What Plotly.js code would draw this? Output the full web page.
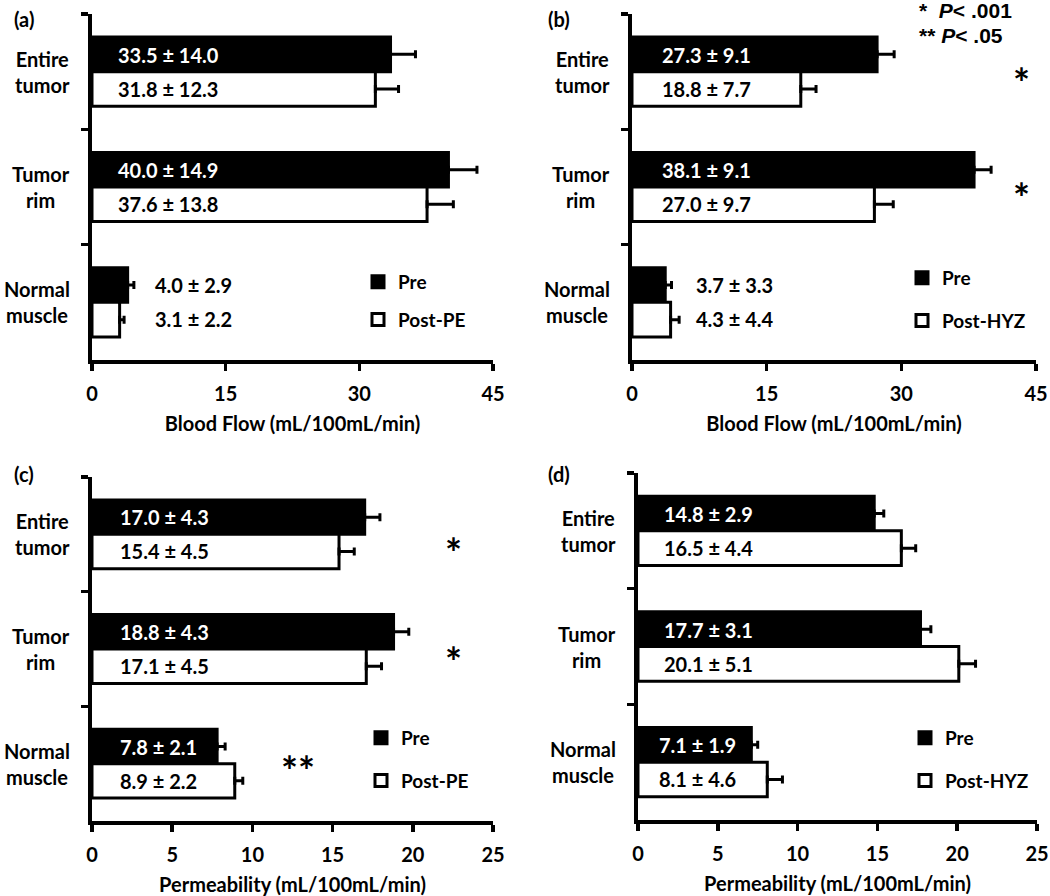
<!DOCTYPE html>
<html><head><meta charset="utf-8">
<script src="https://cdn.plot.ly/plotly-3.0.1.min.js"></script>
<style>html,body{margin:0;padding:0;background:#fff}#chart{width:1050px;height:896px}</style>
</head><body><div id="chart"></div>
<script>
// ---------- data ----------
const categories = ['Entire tumor', 'Tumor rim', 'Normal muscle'];
const categoryLabels = ['Entire<br>tumor', 'Tumor<br>rim', 'Normal<br>muscle'];
const panelLetters = ['(a)', '(b)', '(c)', '(d)'];
const preName = 'Pre';
const postNames = ['Post-PE', 'Post-HYZ', 'Post-PE', 'Post-HYZ'];
const xTitles = ['Blood Flow (mL/100mL/min)', 'Blood Flow (mL/100mL/min)',
                 'Permeability (mL/100mL/min)', 'Permeability (mL/100mL/min)'];
const xTicksFlow = [0, 15, 30, 45];
const xTicksPerm = [0, 5, 10, 15, 20, 25];

// (a) blood flow, PE
const flowPE_pre = [33.5, 40.0, 4.0];
const flowPE_preSD = [14.0, 14.9, 2.9];
const flowPE_preErr = [2.8, 3.2, 0.7];
const flowPE_post = [31.8, 37.6, 3.1];
const flowPE_postSD = [12.3, 13.8, 2.2];
const flowPE_postErr = [2.6, 2.95, 0.5];
// (b) blood flow, HYZ
const flowHYZ_pre = [27.3, 38.1, 3.7];
const flowHYZ_preSD = [9.1, 9.1, 3.3];
const flowHYZ_preErr = [1.9, 1.9, 0.7];
const flowHYZ_post = [18.8, 27.0, 4.3];
const flowHYZ_postSD = [7.7, 9.7, 4.4];
const flowHYZ_postErr = [1.7, 2.1, 0.95];
// (c) permeability, PE
const permPE_pre = [17.0, 18.8, 7.8];
const permPE_preSD = [4.3, 4.3, 2.1];
const permPE_preErr = [0.95, 0.95, 0.5];
const permPE_post = [15.4, 17.1, 8.9];
const permPE_postSD = [4.5, 4.5, 2.2];
const permPE_postErr = [0.95, 0.95, 0.5];
// (d) permeability, HYZ
const permHYZ_pre = [14.8, 17.7, 7.1];
const permHYZ_preSD = [2.9, 3.1, 1.9];
const permHYZ_preErr = [0.6, 0.65, 0.4];
const permHYZ_post = [16.5, 20.1, 8.1];
const permHYZ_postSD = [4.4, 5.1, 4.6];
const permHYZ_postErr = [0.9, 1.05, 0.95];

// significance notes
const sigNote1 = '*  <i>P</i>< .001';
const sigNote2 = '** <i>P</i>< .05';

// ---------- layout helpers ----------
const W = 1050, H = 896;
const px = v => v / W;
const py = v => 1 - v / H;
const FONT = 'Lato, "Noto Sans", sans-serif';

const panels = [
  {pre: flowPE_pre, preSD: flowPE_preSD, preErr: flowPE_preErr,
   post: flowPE_post, postSD: flowPE_postSD, postErr: flowPE_postErr,
   xmax: 45, ticks: xTicksFlow, dom: {x0: 92, x1: 493, y0: 14, y1: 360},
   shift: [24, 24, 61], inside: [true, true, false],
   legend: {x: 358, y: 263, gap: 10}},
  {pre: flowHYZ_pre, preSD: flowHYZ_preSD, preErr: flowHYZ_preErr,
   post: flowHYZ_post, postSD: flowHYZ_postSD, postErr: flowHYZ_postErr,
   xmax: 45, ticks: xTicksFlow, dom: {x0: 632, x1: 1036, y0: 14, y1: 360},
   shift: [28, 28, 62], inside: [true, true, false],
   legend: {x: 902, y: 259, gap: 15}},
  {pre: permPE_pre, preSD: permPE_preSD, preErr: permPE_preErr,
   post: permPE_post, postSD: permPE_postSD, postErr: permPE_postErr,
   xmax: 25, ticks: xTicksPerm, dom: {x0: 92, x1: 493, y0: 477, y1: 821},
   shift: [26, 26, 26], inside: [true, true, true],
   legend: {x: 361, y: 719, gap: 15}},
  {pre: permHYZ_pre, preSD: permHYZ_preSD, preErr: permHYZ_preErr,
   post: permHYZ_post, postSD: permHYZ_postSD, postErr: permHYZ_postErr,
   xmax: 25, ticks: xTicksPerm, dom: {x0: 638, x1: 1037, y0: 473, y1: 820},
   shift: [24, 24, 19], inside: [true, true, true],
   legend: {x: 905, y: 719, gap: 15}}
];

const traces = [];
const layout = {
  width: W, height: H,
  margin: {l: 0, r: 0, t: 0, b: 0},
  paper_bgcolor: '#fff', plot_bgcolor: 'rgba(0,0,0,0)',
  barmode: 'group', bargap: 0.4, bargroupgap: 0,
  font: {family: FONT, color: '#000'},
  annotations: [], showlegend: true
};

panels.forEach((p, k) => {
  const sfx = k === 0 ? '' : String(k + 1);
  const xa = 'x' + sfx, ya = 'y' + sfx;
  const lg = 'legend' + sfx;
  traces.push({
    type: 'bar', orientation: 'h', name: preName,
    x: p.pre, y: categories, xaxis: xa, yaxis: ya,
    marker: {color: '#000', line: {color: '#000', width: 3}},
    error_x: {type: 'data', symmetric: false, array: p.preErr,
              arrayminus: p.preErr.map(() => 0), color: '#000', thickness: 3, width: 4},
    legend: lg, legendgroup: 'pre' + k, hoverinfo: 'skip'
  });
  traces.push({
    type: 'bar', orientation: 'h', name: postNames[k],
    x: p.post, y: categories, xaxis: xa, yaxis: ya,
    marker: {color: '#fff', line: {color: '#000', width: 3}},
    error_x: {type: 'data', symmetric: false, array: p.postErr,
              arrayminus: p.postErr.map(() => 0), color: '#000', thickness: 3, width: 4},
    legend: lg, legendgroup: 'post' + k, hoverinfo: 'skip'
  });

  layout['xaxis' + sfx] = {
    domain: [px(p.dom.x0), px(p.dom.x1)], anchor: ya,
    range: [0, p.xmax], tickvals: p.ticks, ticktext: p.ticks.map(String),
    showline: true, linewidth: 4, linecolor: '#000',
    ticks: 'outside', ticklen: 7, tickwidth: 3.5, tickcolor: '#000',
    showgrid: false, zeroline: false, fixedrange: true,
    ticklabelstandoff: 6,
    tickfont: {family: FONT, size: 20, weight: 'bold', color: '#000'},
    title: {text: xTitles[k], standoff: 14,
            font: {family: FONT, size: 20, weight: 'bold', color: '#000'}}
  };
  layout['yaxis' + sfx] = {
    domain: [py(p.dom.y1), py(p.dom.y0)], anchor: xa,
    type: 'category', categoryorder: 'array', categoryarray: categories,
    range: [2.5, -0.5],
    showline: true, linewidth: 4, linecolor: '#000',
    ticks: 'outside', tickson: 'boundaries', ticklen: 7, tickwidth: 3.5, tickcolor: '#000',
    showticklabels: false, showgrid: false, zeroline: false, fixedrange: true
  };
  layout[lg] = {
    x: px(p.legend.x), y: py(p.legend.y), xanchor: 'left', yanchor: 'top',
    xref: 'paper', yref: 'paper',
    bgcolor: 'rgba(0,0,0,0)', borderwidth: 0,
    traceorder: 'grouped', tracegroupgap: p.legend.gap, itemwidth: 30,
    font: {family: FONT, size: 19, weight: 'bold', color: '#000'}
  };

  // category labels
  categories.forEach((c, i) => {
    layout.annotations.push({
      xref: xa + ' domain', yref: ya, x: 0, y: c, xanchor: 'right', yanchor: 'middle',
      xshift: -20, align: 'center', showarrow: false, text: categoryLabels[i],
      font: {family: FONT, size: 20, weight: 'bold', color: '#000'}
    });
    // value labels
    layout.annotations.push({
      xref: xa, yref: ya, x: 0, y: c, xanchor: 'left', yanchor: 'middle',
      xshift: p.shift[i], yshift: 17, showarrow: false,
      text: p.pre[i].toFixed(1) + ' ± ' + p.preSD[i].toFixed(1),
      font: {family: FONT, size: 20, weight: 'bold', color: p.inside[i] ? '#fff' : '#000'}
    });
    layout.annotations.push({
      xref: xa, yref: ya, x: 0, y: c, xanchor: 'left', yanchor: 'middle',
      xshift: p.shift[i], yshift: -17, showarrow: false,
      text: p.post[i].toFixed(1) + ' ± ' + p.postSD[i].toFixed(1),
      font: {family: FONT, size: 20, weight: 'bold', color: '#000'}
    });
  });

  // panel letter
  layout.annotations.push({
    xref: 'paper', yref: 'paper', x: px(k % 2 === 0 ? 12 : 546),
    y: py(k < 2 ? 19 : 474), xanchor: 'left', yanchor: 'middle', showarrow: false,
    text: panelLetters[k], font: {family: FONT, size: 20, weight: 'bold', color: '#000'}
  });
});

// significance markers
const stars = [
  {x: 1021, y: 83, t: '*'}, {x: 1021, y: 198, t: '*'},
  {x: 453, y: 553, t: '*'}, {x: 453, y: 662, t: '*'}, {x: 298, y: 771, t: '**'}
];
stars.forEach(s => layout.annotations.push({
  xref: 'paper', yref: 'paper', x: px(s.x), y: py(s.y), xanchor: 'center', yanchor: 'middle',
  showarrow: false, text: s.t, font: {family: FONT, size: 40, weight: 'bold', color: '#000'}
}));
[[sigNote1, 11], [sigNote2, 36]].forEach(([t, y]) => layout.annotations.push({
  xref: 'paper', yref: 'paper', x: px(917), y: py(y), xanchor: 'left', yanchor: 'middle',
  showarrow: false, text: t,
  font: {family: '"Liberation Sans", Arial, sans-serif', size: 21, weight: 'bold', color: '#000'}
}));

Plotly.newPlot('chart', traces, layout, {staticPlot: true});
</script></body></html>
